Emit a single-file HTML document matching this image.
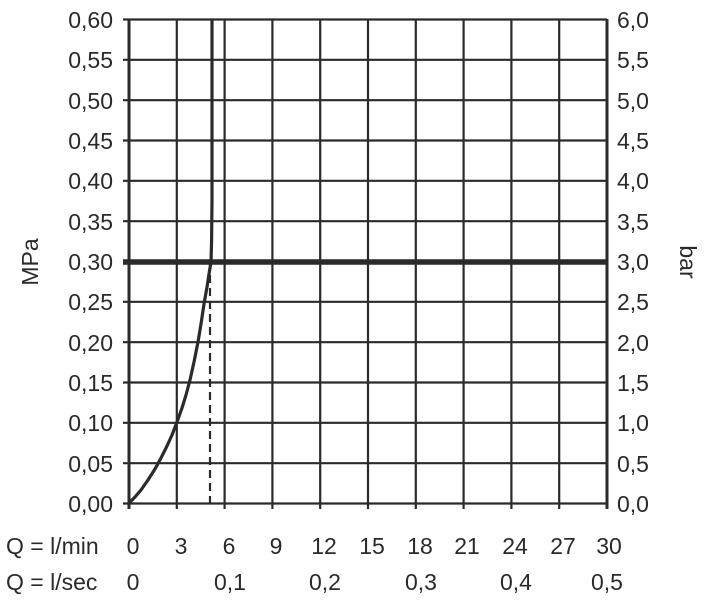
<!DOCTYPE html>
<html><head><meta charset="utf-8"><style>
html,body{margin:0;padding:0;background:#fff;}
svg{display:block;}
text{font-family:"Liberation Sans",sans-serif;font-size:23px;fill:#2a2a2a;}
</style></head><body>
<svg width="704" height="600" viewBox="0 0 704 600">
<g stroke="#2a2a2a" stroke-width="2.2" fill="none">
<path d="M123 19.5H607M123 59.8H607M123 100.2H607M123 140.5H607M123 180.8H607M123 221.2H607M123 301.8H607M123 342.2H607M123 382.5H607M123 422.8H607M123 463.2H607M123 503.5H607"/>
<path d="M176.8 19V509M224.6 19V509M272.4 19V509M320.2 19V509M368 19V509M415.8 19V509M463.6 19V509M511.4 19V509M559.2 19V509"/>
</g>
<path d="M129 19V509" stroke="#2a2a2a" stroke-width="3"/>
<path d="M607 19V509" stroke="#2a2a2a" stroke-width="3"/>
<path d="M123 262H607" stroke="#2a2a2a" stroke-width="5.5"/>
<path d="M210 262V503" stroke="#2a2a2a" stroke-width="2.2" stroke-dasharray="8,5"/>
<polyline points="129,503 135,497 141,490 148,480 155,469 161,458 167,446 172,435 177,422 182,408 186,395 190,380 194,362 198,342 201,324 204,304 207,287 209,274 211,262 211.6,240 212,200 212,19" stroke="#2a2a2a" stroke-width="3.2" fill="none" stroke-linejoin="round"/>
<g text-anchor="end">
<text x="113" y="28">0,60</text><text x="113" y="68">0,55</text><text x="113" y="109">0,50</text>
<text x="113" y="149">0,45</text><text x="113" y="189">0,40</text><text x="113" y="230">0,35</text>
<text x="113" y="270">0,30</text><text x="113" y="310">0,25</text><text x="113" y="351">0,20</text>
<text x="113" y="391">0,15</text><text x="113" y="431">0,10</text><text x="113" y="472">0,05</text>
<text x="113" y="512">0,00</text>
</g>
<g>
<text x="617" y="28">6,0</text><text x="617" y="68">5,5</text><text x="617" y="109">5,0</text>
<text x="617" y="149">4,5</text><text x="617" y="189">4,0</text><text x="617" y="230">3,5</text>
<text x="617" y="270">3,0</text><text x="617" y="310">2,5</text><text x="617" y="351">2,0</text>
<text x="617" y="391">1,5</text><text x="617" y="431">1,0</text><text x="617" y="472">0,5</text>
<text x="617" y="512">0,0</text>
</g>
<text transform="translate(38,262) rotate(-90)" text-anchor="middle">MPa</text>
<text transform="translate(680,262) rotate(90)" text-anchor="middle">bar</text>
<text x="6" y="554">Q = l/min</text>
<text x="6" y="590">Q = l/sec</text>
<g text-anchor="middle">
<text x="133" y="554">0</text><text x="181" y="554">3</text><text x="229" y="554">6</text>
<text x="276" y="554">9</text><text x="324" y="554">12</text><text x="372" y="554">15</text>
<text x="420" y="554">18</text><text x="467" y="554">21</text><text x="515" y="554">24</text>
<text x="563" y="554">27</text><text x="609" y="554">30</text>
<text x="133" y="590">0</text><text x="230" y="590">0,1</text><text x="325" y="590">0,2</text>
<text x="421" y="590">0,3</text><text x="516" y="590">0,4</text><text x="607" y="590">0,5</text>
</g>
</svg>
</body></html>
